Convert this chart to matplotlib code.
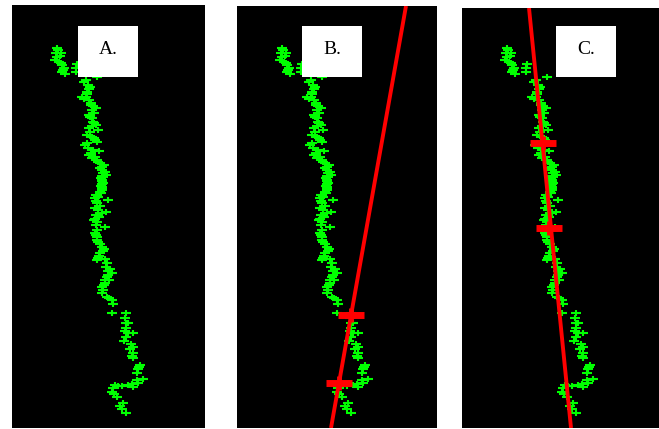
import matplotlib
matplotlib.use("Agg")
import numpy as np
import matplotlib.pyplot as plt
from matplotlib.path import Path
from matplotlib.patches import Rectangle

# traced points (pixels from panel left / panel top)
pts_x = [45, 44, 49, 43, 47, 50, 52, 50, 53, 65, 64, 85, 74, 76, 78, 75, 74, 70, 77, 79,
         81, 84, 80, 77, 80, 81, 84, 77, 86, 75, 80, 82, 85, 73, 76, 81, 87, 77, 80, 85,
         88, 92, 88, 93, 94, 91, 90, 91, 90, 90, 88, 84, 83, 96, 85, 88, 83, 94, 90, 87,
         82, 85, 93, 85, 83, 85, 86, 90, 92, 88, 87, 85, 93, 94, 98, 100, 95, 97, 93, 90,
         91, 95, 100, 101, 100, 114, 113, 116, 114, 116, 121, 114, 112, 121, 118, 121, 121, 128, 126, 125,
         131, 125, 126, 120, 116, 110, 103, 101, 100, 105, 111, 108, 114,
         46, 48, 45, 49, 51, 64, 72, 77, 75, 72, 79, 82, 78, 82, 80, 78, 83, 75, 79, 83,
         86, 90, 90, 91, 90, 89, 90, 90, 89, 90, 89, 86, 84, 86, 84, 83, 84, 84, 85, 88,
         91, 86, 95, 96, 96, 93, 92, 90, 97, 114, 113, 119, 120, 127, 121, 106, 102, 110]
pts_y = [43, 48, 48, 55, 57, 60, 63, 67, 69, 59, 67, 72, 75, 80, 82, 87, 92, 92, 95, 98,
         101, 103, 105, 110, 113, 117, 120, 123, 125, 130, 132, 133, 137, 140, 143, 145, 146, 150, 153, 155,
         158, 160, 163, 167, 170, 172, 175, 178, 182, 185, 187, 190, 193, 195, 198, 201, 203, 207, 208, 212,
         215, 217, 222, 225, 228, 232, 237, 242, 244, 248, 251, 255, 254, 262, 264, 268, 272, 275, 278, 282,
         285, 292, 295, 299, 308, 308, 313, 318, 323, 328, 328, 332, 336, 342, 344, 348, 353, 360, 364, 368,
         374, 375, 378, 379, 380, 381, 380, 383, 387, 392, 398, 401, 408,
         45, 51, 52, 58, 65, 63, 77, 84, 89, 94, 100, 108, 112, 118, 121, 127, 135, 138, 148, 152,
         157, 162, 165, 168, 171, 173, 176, 179, 181, 184, 188, 192, 196, 205, 210, 214, 220, 230, 235, 239,
         246, 253, 258, 266, 270, 275, 280, 288, 293, 318, 326, 339, 351, 362, 382, 381, 389, 404]

labels = ["A.", "B.", "C."]

# fitted lines (end points) and picked points for panels B and C
line_b_x = [169, 94]
line_b_y = [1, 423]
picks_b_x = [114, 102]
picks_b_y = [310, 378]

line_c_x = [67, 109]
line_c_y = [3, 423]
picks_c_x = [81, 87]
picks_c_y = [138, 223]

W, H = 659, 429
fig = plt.figure(figsize=(W / 100, H / 100), dpi=100)
fig.patch.set_facecolor("white")

panels = [(12, 5, 205, 428), (237, 6, 437, 428), (462, 8, 659, 428)]
boxes = [(66, 21), (65, 21), (94, 21)]

plus = Path([(-1, 0), (1, 0), (0, -0.7), (0, 0.7)],
            [Path.MOVETO, Path.LINETO, Path.MOVETO, Path.LINETO])

axes = []
for (l, t, r, b), (bx, by), lab in zip(panels, boxes, labels):
    ax = fig.add_axes([l / W, (H - b) / H, (r - l) / W, (b - t) / H])
    ax.set_facecolor("black")
    ax.set_xlim(0, r - l)
    ax.set_ylim(b - 5, t - 5)
    ax.set_xticks([])
    ax.set_yticks([])
    for s in ax.spines.values():
        s.set_visible(False)
    ax.plot(pts_x, pts_y, ls="none", marker=plus, ms=7, mew=1.5,
            color="#00ff00", zorder=2)
    ax.add_patch(Rectangle((bx, by), 60, 51, facecolor="white",
                           edgecolor="none", zorder=5))
    ax.text(bx + 30, by + 24, lab, ha="center", va="center", fontsize=14,
            family="Liberation Serif", color="black", zorder=6)
    axes.append(ax)

for ax, lx, ly, px, py in [(axes[1], line_b_x, line_b_y, picks_b_x, picks_b_y),
                           (axes[2], line_c_x, line_c_y, picks_c_x, picks_c_y)]:
    ax.plot(lx, ly, color="red", lw=2.8, solid_capstyle="butt", zorder=3)
    ax.plot(px, py, ls="none", marker="_", ms=19, mew=5, color="red", zorder=4)
    ax.plot(px, py, ls="none", marker="|", ms=10, mew=3.5, color="red", zorder=4)

fig.savefig("out.png", dpi=100, facecolor="white")
